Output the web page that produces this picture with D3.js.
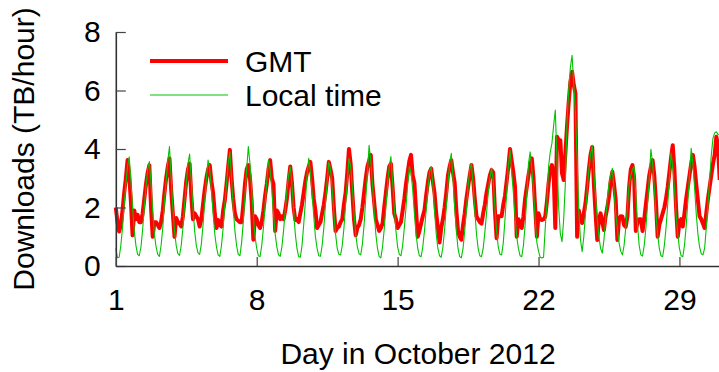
<!DOCTYPE html>
<html lang="en">
<head>
<meta charset="UTF-8">
<title>Downloads in October 2012</title>
<script src="https://d3js.org/d3.v7.min.js"></script>
<style>
  body { margin: 0; background: #fff; }
  text { font-family: "Liberation Sans", Arial, Helvetica, sans-serif; fill: #000; }
</style>
</head>
<body>
<svg id="chart" width="719" height="372"></svg>
<script>
// samples every 2 hours, one row per day (Oct 1 .. Oct 30, then Oct 31 00:00)
const hours = [0, 2, 4, 6, 8, 10, 12, 14, 16, 18, 20, 22];

const gmt = [
  [2.0, 1.5, 1.18, 1.4, 1.9, 2.5, 3.0, 3.62, 3.1, 2.2, 1.05, 1.9],
  [1.6, 1.75, 1.5, 1.5, 1.8, 2.3, 2.8, 3.2, 3.45, 2.0, 1.0, 1.5],
  [1.5, 1.4, 1.3, 1.5, 1.9, 2.5, 3.0, 3.4, 3.68, 2.6, 1.8, 1.0],
  [1.64, 1.5, 1.45, 1.35, 1.7, 2.3, 2.9, 3.3, 3.5, 2.4, 1.6, 1.8],
  [1.7, 1.6, 1.35, 1.6, 2.1, 2.6, 3.0, 3.3, 3.45, 2.9, 2.5, 1.8],
  [1.3, 1.57, 1.4, 1.35, 1.9, 2.25, 2.8, 3.4, 3.97, 3.0, 2.3, 1.8],
  [1.6, 1.55, 1.5, 1.5, 2.1, 2.8, 3.3, 3.45, 3.0, 2.2, 0.9, 1.7],
  [1.6, 1.4, 1.3, 1.5, 1.9, 2.4, 2.8, 3.3, 3.62, 3.0, 2.8, 1.2],
  [1.9, 1.8, 1.6, 1.7, 1.6, 1.9, 2.3, 2.9, 3.4, 2.85, 2.0, 1.57],
  [1.6, 1.5, 1.8, 2.1, 2.5, 2.9, 3.2, 3.4, 3.56, 3.0, 2.3, 1.9],
  [1.3, 1.4, 1.5, 1.8, 2.1, 2.5, 3.0, 3.56, 3.3, 3.0, 2.0, 1.2],
  [1.3, 1.35, 1.5, 1.6, 2.1, 2.5, 3.2, 4.0, 3.5, 2.5, 1.6, 1.05],
  [1.3, 1.4, 1.6, 2.0, 2.5, 3.0, 3.4, 3.6, 3.8, 2.8, 2.2, 1.6],
  [1.4, 1.2, 1.3, 1.45, 2.0, 2.5, 3.0, 3.4, 3.5, 2.7, 1.8, 1.6],
  [1.3, 1.4, 1.5, 1.9, 2.3, 2.8, 3.2, 3.6, 3.8, 3.1, 2.85, 1.9],
  [1.0, 1.2, 1.45, 1.7, 1.9, 2.4, 2.85, 3.2, 3.33, 2.9, 2.5, 1.8],
  [1.3, 0.8, 1.3, 1.6, 2.0, 2.5, 3.1, 3.4, 3.62, 3.2, 2.85, 1.9],
  [1.2, 1.0, 0.9, 1.4, 1.8, 2.3, 2.7, 3.1, 3.45, 3.0, 2.3, 1.7],
  [1.6, 1.5, 1.45, 1.8, 2.1, 2.5, 2.8, 3.1, 3.28, 3.2, 1.9, 0.95],
  [1.7, 1.7, 1.7, 2.1, 2.4, 2.9, 3.4, 4.0, 3.6, 3.2, 2.7, 1.0],
  [1.6, 1.5, 1.3, 1.7, 2.3, 2.7, 3.1, 3.4, 3.68, 3.0, 2.0, 1.0],
  [1.8, 1.6, 1.57, 1.6, 1.69, 2.2, 2.83, 3.3, 3.45, 3.17, 1.3, 4.42],
  [4.3, 4.3, 3.17, 2.94, 3.85, 4.8, 5.6, 6.3, 6.64, 6.2, 5.9, 1.0],
  [1.9, 1.6, 1.47, 1.8, 2.15, 2.7, 3.3, 3.8, 4.07, 2.8, 1.8, 0.89],
  [1.6, 1.8, 1.5, 1.23, 1.7, 2.0, 2.37, 2.9, 3.22, 2.8, 2.26, 0.89],
  [1.6, 1.7, 1.69, 1.4, 1.34, 1.7, 2.7, 3.3, 3.45, 3.0, 1.2, 1.5],
  [1.6, 1.6, 1.2, 1.6, 2.1, 2.6, 3.1, 3.4, 3.62, 3.1, 2.2, 1.0],
  [1.4, 1.6, 1.8, 2.0, 2.3, 2.7, 3.2, 3.7, 4.13, 3.3, 2.0, 1.0],
  [1.5, 1.6, 1.35, 1.8, 2.3, 2.7, 3.1, 3.5, 3.8, 3.4, 2.8, 2.25],
  [1.7, 1.6, 1.45, 1.3, 1.8, 2.3, 2.7, 3.1, 3.5, 3.8, 4.42, 4.1],
  [2.94]
];

const localTime = [
  [0.6, 0.28, 0.3, 0.7, 1.3, 2.1, 2.8, 3.4, 3.73, 2.9, 2.0, 1.2],
  [0.7, 0.4, 0.35, 0.65, 1.25, 2.0, 2.7, 3.3, 3.57, 2.8, 1.9, 1.1],
  [0.65, 0.4, 0.33, 0.7, 1.3, 2.2, 2.9, 3.6, 4.08, 3.0, 2.0, 1.2],
  [0.7, 0.42, 0.36, 0.7, 1.3, 2.1, 2.8, 3.5, 3.83, 2.9, 2.0, 1.2],
  [0.7, 0.45, 0.4, 0.75, 1.4, 2.2, 3.0, 3.62, 3.3, 2.6, 1.8, 1.1],
  [0.65, 0.38, 0.33, 0.7, 1.3, 2.1, 2.8, 3.5, 3.9, 3.0, 2.0, 1.2],
  [0.7, 0.4, 0.35, 0.8, 1.5, 2.4, 3.3, 4.08, 3.5, 2.6, 1.7, 1.0],
  [0.6, 0.35, 0.32, 0.7, 1.3, 2.1, 2.9, 3.62, 3.3, 2.6, 1.8, 1.1],
  [0.65, 0.38, 0.33, 0.65, 1.2, 1.9, 2.6, 3.1, 3.39, 2.8, 1.9, 1.1],
  [0.6, 0.32, 0.3, 0.7, 1.4, 2.2, 3.1, 3.68, 3.2, 2.5, 1.7, 1.0],
  [0.6, 0.35, 0.33, 0.7, 1.3, 2.1, 2.9, 3.56, 3.3, 2.6, 1.8, 1.1],
  [0.6, 0.4, 0.38, 0.7, 1.3, 2.1, 2.9, 3.68, 3.4, 2.7, 1.8, 1.1],
  [0.65, 0.42, 0.38, 0.75, 1.4, 2.3, 3.2, 4.13, 3.6, 2.8, 1.9, 1.1],
  [0.6, 0.32, 0.28, 0.65, 1.25, 2.0, 2.8, 3.4, 3.74, 2.9, 2.0, 1.2],
  [0.65, 0.4, 0.35, 0.7, 1.3, 2.0, 2.8, 3.4, 3.2, 2.6, 1.8, 1.1],
  [0.6, 0.35, 0.32, 0.65, 1.2, 1.9, 2.6, 3.2, 3.4, 2.8, 1.9, 1.1],
  [0.6, 0.35, 0.3, 0.65, 1.25, 2.0, 2.8, 3.5, 3.85, 3.0, 2.0, 1.2],
  [0.6, 0.32, 0.28, 0.6, 1.2, 1.9, 2.7, 3.3, 3.5, 2.8, 1.9, 1.1],
  [0.6, 0.35, 0.32, 0.6, 1.15, 1.8, 2.5, 3.0, 3.35, 2.9, 2.0, 1.2],
  [0.65, 0.4, 0.38, 0.8, 1.6, 2.5, 3.4, 3.97, 3.2, 2.5, 1.7, 1.0],
  [0.6, 0.35, 0.32, 0.7, 1.4, 2.4, 3.5, 3.9, 3.3, 2.6, 1.6, 0.8],
  [0.5, 0.3, 0.27, 0.3, 1.3, 2.2, 3.4, 3.9, 4.2, 4.8, 5.33, 3.6],
  [2.0, 1.1, 0.83, 1.6, 2.83, 5.0, 6.0, 6.8, 7.2, 6.2, 5.2, 3.74],
  [1.9, 0.9, 0.49, 1.0, 1.8, 2.6, 3.3, 3.8, 4.13, 3.2, 2.37, 1.6],
  [1.0, 0.6, 0.44, 0.9, 1.6, 2.26, 2.8, 3.1, 3.34, 2.6, 1.8, 1.3],
  [0.8, 0.5, 0.38, 0.7, 1.3, 2.0, 2.8, 3.1, 3.3, 3.4, 2.4, 1.4],
  [0.7, 0.38, 0.34, 0.7, 1.3, 2.1, 3.0, 3.99, 3.5, 2.7, 1.8, 1.1],
  [0.6, 0.35, 0.32, 0.7, 1.3, 2.1, 3.0, 3.86, 3.4, 2.7, 1.8, 1.1],
  [0.6, 0.35, 0.32, 0.7, 1.35, 2.2, 3.1, 4.02, 3.5, 2.7, 1.8, 1.1],
  [0.65, 0.42, 0.38, 0.6, 1.3, 2.1, 2.94, 3.8, 4.37, 4.55, 4.59, 4.5],
  [4.48]
];

const xTicks = [1, 8, 15, 22, 29];
const yTicks = [0, 2, 4, 6, 8];
const seriesNames = ['GMT', 'Local time'];

const svg = d3.select('#chart');
const plotLeft = 115.8, plotRight = 719.7, plotTop = 32, plotBottom = 266;
const fontSize = 30;

const x = d3.scaleLinear().domain([1, 31]).range([plotLeft, plotRight]);
const y = d3.scaleLinear().domain([0, 8]).range([plotBottom, plotTop]);

// flatten day rows into (day, value) points
function toPoints(rows) {
  const pts = [];
  rows.forEach((row, i) => {
    row.forEach((v, j) => pts.push({ t: 1 + i + hours[j] / 24, v: v }));
  });
  return pts;
}

svg.append('defs').append('clipPath').attr('id', 'plot-clip')
  .append('rect')
  .attr('x', plotLeft - 3).attr('y', 0)
  .attr('width', plotRight - plotLeft + 3).attr('height', plotBottom + 2);

const line = d3.line().x(d => x(d.t)).y(d => y(d.v));

const plot = svg.append('g').attr('clip-path', 'url(#plot-clip)');

plot.append('path')
  .datum(toPoints(gmt))
  .attr('d', line)
  .attr('fill', 'none')
  .attr('stroke', '#ff0000')
  .attr('stroke-width', 4)
  .attr('stroke-linejoin', 'round');

plot.append('path')
  .datum(toPoints(localTime))
  .attr('d', line)
  .attr('fill', 'none')
  .attr('stroke', '#00c400')
  .attr('stroke-width', 1.1)
  .attr('stroke-linejoin', 'round');

// axes
const yAxis = svg.append('g')
  .attr('transform', `translate(${plotLeft},0)`)
  .call(d3.axisLeft(y).tickValues(yTicks).tickSize(-10).tickSizeOuter(0).tickPadding(15));

const xAxis = svg.append('g')
  .attr('transform', `translate(0,${plotBottom})`)
  .call(d3.axisBottom(x).tickValues(xTicks).tickSize(-9).tickSizeOuter(0).tickPadding(23));

[yAxis, xAxis].forEach(a => {
  a.select('.domain').attr('stroke', '#333').attr('stroke-width', 1.6);
  a.selectAll('.tick line').attr('stroke', '#444').attr('stroke-width', 1.2);
  a.selectAll('.tick text')
    .attr('font-family', '"Liberation Sans", Arial, sans-serif')
    .attr('font-size', fontSize)
    .attr('fill', '#000');
});

// axis titles
svg.append('text')
  .attr('transform', `translate(34,149) rotate(-90)`)
  .attr('text-anchor', 'middle')
  .attr('font-size', fontSize)
  .text('Downloads (TB/hour)');

svg.append('text')
  .attr('x', 418)
  .attr('y', 364)
  .attr('text-anchor', 'middle')
  .attr('font-size', fontSize)
  .text('Day in October 2012');

// legend
const legend = svg.append('g');
const legendColors = ['#ff0000', '#00c400'];
const legendWidths = [4, 1.1];
seriesNames.forEach((name, i) => {
  const ly = 61 + i * 34;
  legend.append('line')
    .attr('x1', 150).attr('x2', 228)
    .attr('y1', ly).attr('y2', ly)
    .attr('stroke', legendColors[i])
    .attr('stroke-width', legendWidths[i]);
  legend.append('text')
    .attr('x', 245)
    .attr('y', ly + 11)
    .attr('font-size', fontSize)
    .text(name);
});
</script>
</body>
</html>
